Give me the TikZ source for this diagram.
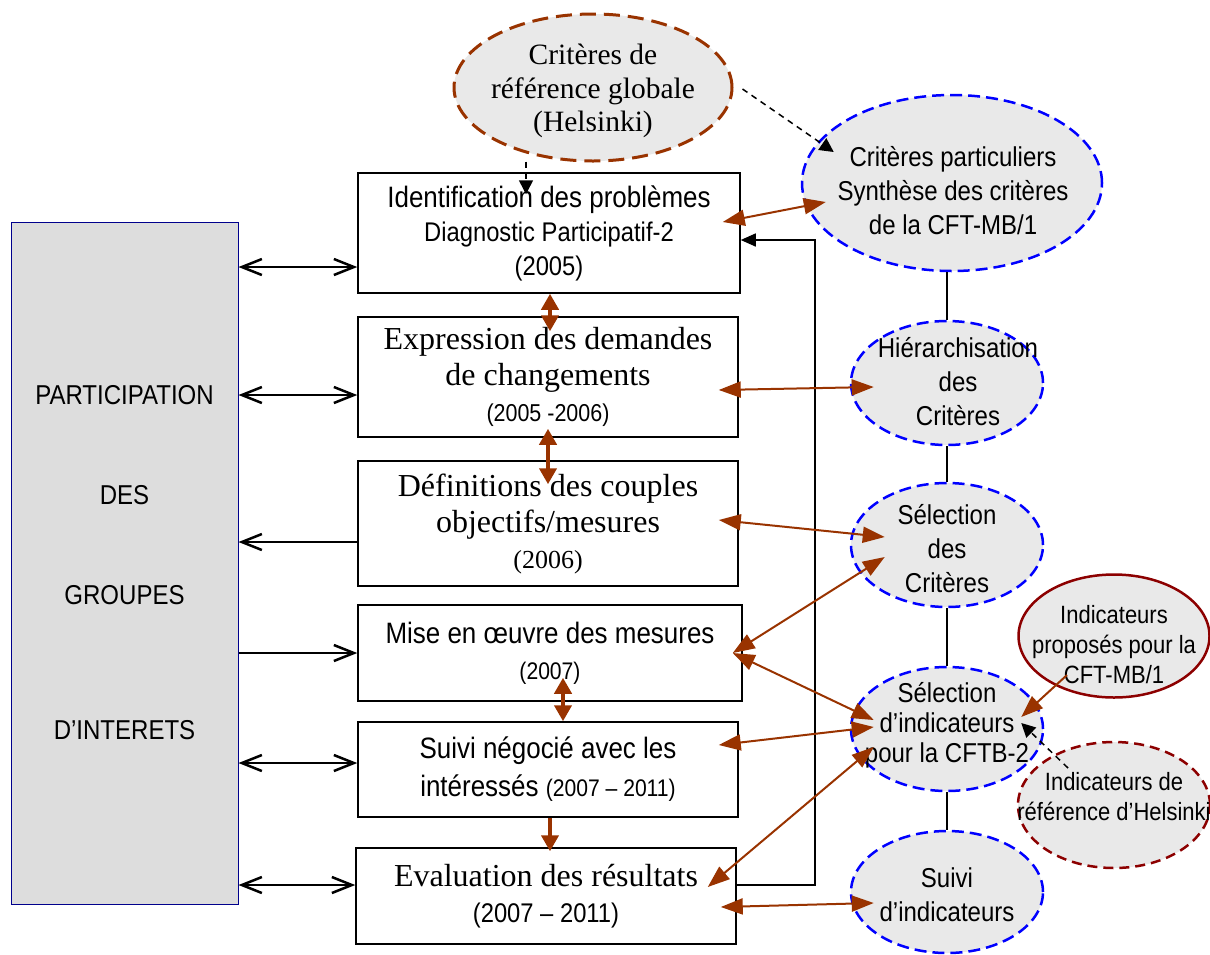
\documentclass[tikz,border=0pt]{standalone}
\usepackage{fontspec}
\setmainfont[FakeStretch=0.88]{Liberation Sans}
\newfontfamily\arl[FakeStretch=0.88]{Liberation Sans}
\newfontfamily\tnr{Liberation Serif}
\usetikzlibrary{shapes.geometric,arrows.meta}
\definecolor{arrowbrown}{RGB}{153,51,0}
\definecolor{darkred}{RGB}{140,0,0}
\definecolor{ovalfill}{RGB}{233,233,233}
\definecolor{boxgray}{RGB}{221,221,221}
\definecolor{navyline}{RGB}{0,0,140}

\begin{document}
\begin{tikzpicture}[x=1pt,y=-1pt,
        procbox/.style={draw=black,line width=1.5pt,rectangle,inner sep=0pt,align=center},
        oval/.style={ellipse,fill=ovalfill,inner sep=0pt},
        blueoval/.style={oval,draw=blue,line width=2.5pt,dash pattern=on 12pt off 6pt,minimum width=192pt,minimum height=124pt},
        ovaltext/.style={align=center,font=\fontsize{27.3}{34}\selectfont},
        pgarrow/.style={draw=black,line width=2.5pt,>={Straight Barb[length=20pt,width=16pt]}},
        brarrow/.style={draw=arrowbrown,line width=2pt,>={Triangle[length=22pt,width=16pt]}},
        brthick/.style={draw=arrowbrown,line width=4.5pt,>={Triangle[length=16pt,width=17pt]}},
        refarrow/.style={draw=black,line width=1.5pt,dash pattern=on 6pt off 5pt,-{Triangle[length=14pt,width=14pt]}},
        loopline/.style={draw=black,line width=1.5pt,-{Triangle[length=15pt,width=13pt]}},
        chainline/.style={draw=black,line width=2pt}]
        \useasboundingbox (0,0) rectangle (1210,954);

        \node[draw=navyline,fill=boxgray,line width=1pt,minimum width=227pt,minimum height=682pt,inner sep=0pt,
              align=center,font=\fontsize{27.3}{100}\selectfont] (pg) at (124.5,563)
              {PARTICIPATION\\DES\\GROUPES\\[35pt]D’INTERETS};

        \node[procbox,minimum width=382pt,minimum height=120pt,font=\fontsize{27}{34}\selectfont] (b1) at (549,233)
              {{\fontsize{29.5}{34}\selectfont Identification des problèmes}\\Diagnostic Participatif-2\\(2005)};
        \node[procbox,minimum width=380pt,minimum height=120pt,font=\tnr\fontsize{32}{36}\selectfont] (b2) at (548,377)
              {Expression des demandes\\de changements\\{\arl\fontsize{24.4}{30}\selectfont (2005 -2006)}};
        \node[procbox,minimum width=380pt,minimum height=125pt,font=\tnr\fontsize{32}{36}\selectfont] (b3) at (548,523.5)
              {Définitions des couples\\objectifs/mesures\\{\fontsize{26}{30}\selectfont (2006)}};
        \node[procbox,minimum width=384pt,minimum height=96pt,font=\fontsize{29.5}{36}\selectfont] (b4) at (550,653)
              {Mise en œuvre des mesures\\{\fontsize{24}{30}\selectfont (2007)}};
        \node[procbox,minimum width=380pt,minimum height=95pt,font=\fontsize{29.5}{38}\selectfont] (b5) at (548,769.5)
              {Suivi négocié avec les\\intéressés {\fontsize{24}{30}\selectfont (2007 – 2011)}};
        \node[procbox,minimum width=380pt,minimum height=96pt,font=\tnr\fontsize{32}{36}\selectfont] (b6) at (546,896)
              {Evaluation des résultats\\{\arl\fontsize{27}{30}\selectfont (2007 – 2011)}};

        \node[oval,draw=arrowbrown,line width=3pt,dash pattern=on 16pt off 8pt,minimum width=278pt,minimum height=147pt] (glob) at (593,87.5) {};
        \node[align=center,font=\tnr\fontsize{29.5}{33.5}\selectfont] (glob-t) at ([yshift=-3.5pt]glob)
              {Critères de\\référence globale\\(Helsinki)};

        \node[blueoval,minimum width=300pt,minimum height=176pt] (crit) at (952,183) {};
        \node[blueoval] (hier) at (947,383) {};
        \node[blueoval] (selc) at (947,545) {};
        \node[oval,draw=darkred,line width=2.5pt,dash pattern=on 10pt off 6pt,minimum width=192pt,minimum height=126pt] (helk) at (1114,805) {};
        \node[blueoval] (seli) at (947,729) {};
        \node[blueoval,minimum height=122pt] (suivi) at (947,892) {};
        \node[oval,draw=darkred,line width=2.5pt,minimum width=191pt,minimum height=123pt] (prop) at (1114,636) {};

        \node[ovaltext] (crit-t) at ([xshift=1pt,yshift=-8pt]crit) {Critères particuliers\\Synthèse des critères\\de la CFT-MB/1};
        \node[ovaltext] (hier-t) at ([xshift=11pt,yshift=1pt]hier) {Hiérarchisation\\des\\Critères};
        \node[ovaltext] (selc-t) at ([yshift=-4pt]selc) {Sélection\\des\\Critères};
        \node[ovaltext,font=\fontsize{27.3}{30}\selectfont] (seli-t) at ([yshift=4pt]seli) {Sélection\\d’indicateurs\\pour la CFTB-2};
        \node[ovaltext] (suivi-t) at ([yshift=-3pt]suivi) {Suivi\\d’indicateurs};
        \node[ovaltext,font=\fontsize{25}{30}\selectfont] (prop-t) at ([yshift=-9pt]prop) {Indicateurs\\proposés pour la\\CFT-MB/1};
        \node[ovaltext,font=\fontsize{25}{30}\selectfont] (helk-t) at ([yshift=8pt]helk) {Indicateurs de\\référence d’Helsinki};

        \coordinate (a1) at ([yshift=-34pt]b1.west);
        \coordinate (a2) at ([yshift=-18pt]b2.west);
        \coordinate (a3) at ([yshift=-18.5pt]b3.west);
        \coordinate (a4) at (b4.west);
        \coordinate (a5) at ([yshift=6.5pt]b5.west);
        \coordinate (a6) at ([yshift=11pt]b6.west);
        \draw[pgarrow,<->] (a1 -| pg.east) -- (a1);
        \draw[pgarrow,<->] (a2 -| pg.east) -- (a2);
        \draw[pgarrow,->] (a3) -- (a3 -| pg.east);
        \draw[pgarrow,->] (a4 -| pg.east) -- (a4);
        \draw[pgarrow,<->] (a5 -| pg.east) -- (a5);
        \draw[pgarrow,<->] (a6 -| pg.east) -- (a6);

        \draw[chainline] (hier.north |- crit.south) -- (hier.north);
        \draw[chainline] (hier.south) -- (selc.north);
        \draw[chainline] (selc.south) -- (seli.north);
        \draw[chainline] (seli.south) -- (suivi.north);

        \draw[loopline] ([yshift=11pt]b6.east) -| ([xshift=74pt,yshift=-7pt]b1.east) -- ([yshift=-7pt]b1.east);

        \draw[brthick,<->] ([xshift=1pt]b1.south) -- ([xshift=2pt,yshift=-15pt]b2.north);
        \draw[brthick,<->] ([yshift=9pt]b2.south) -- ([yshift=-24pt]b3.north);
        \draw[brthick,<->] ([xshift=13pt,yshift=24pt]b4.south) -- ([xshift=15pt]b5.north);
        \draw[brthick,->] ([xshift=2pt]b5.south) -- ([xshift=4pt,yshift=-4pt]b6.north);

        \draw[brarrow,<->] ([xshift=-18pt,yshift=11pt]b1.east) -- ([xshift=25pt,yshift=-19pt]crit.west);
        \draw[brarrow,<->] ([xshift=-20pt,yshift=-13pt]b2.east) -- ([xshift=24pt,yshift=-4pt]hier.west);
        \draw[brarrow,<->] ([xshift=-20pt,yshift=3.5pt]b3.east) -- ([xshift=35pt,yshift=8pt]selc.west);
        \draw[brarrow,<->] ([xshift=-10pt]b4.east) -- ([xshift=35pt,yshift=-12pt]selc.west);
        \draw[brarrow,<->] ([xshift=-10pt]b4.east) -- ([xshift=24pt,yshift=9pt]seli.west);
        \draw[brarrow,<->] ([xshift=-20pt,yshift=24.5pt]b5.east) -- ([xshift=24pt,yshift=2pt]seli.west);
        \draw[brarrow,<->] ([xshift=-29pt,yshift=9pt]b6.east) -- ([xshift=24pt,yshift=-18pt]seli.west);
        \draw[brarrow,<->] ([xshift=-16pt,yshift=-11pt]b6.east) -- ([xshift=24pt,yshift=-11pt]suivi.west);
        \draw[brarrow,->] ([xshift=-47pt,yshift=-39pt]prop.center) -- ([xshift=-23pt,yshift=12pt]seli.east);

        \draw[refarrow] ([xshift=-67pt,yshift=1pt]glob.south) -- ([xshift=-23pt,yshift=-22pt]b1.north);
        \draw[refarrow] ([xshift=9pt,yshift=-1.5pt]glob.east) -- ([xshift=33pt,yshift=31pt]crit.west);
        \draw[refarrow] ([xshift=-46pt,yshift=37pt]helk.center) -- ([xshift=-23pt,yshift=6pt]seli.east);
\end{tikzpicture}
\end{document}
